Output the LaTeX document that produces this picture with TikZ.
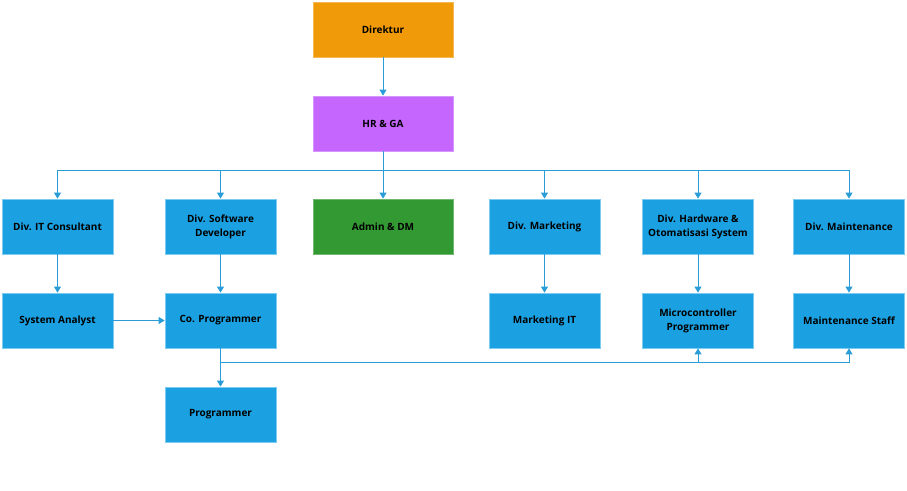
\documentclass[tikz,border=0pt]{standalone}
\usepackage{fontspec}
\setmainfont{Open Sans}
\usetikzlibrary{arrows.meta}
\definecolor{boxblue}{HTML}{1BA1E2}
\definecolor{edgeblue}{HTML}{7CCBF0}
\definecolor{boxorange}{HTML}{F09A09}
\definecolor{boxpurple}{HTML}{C566FF}
\definecolor{boxgreen}{HTML}{339933}
\definecolor{linkblue}{HTML}{2A9DD8}
\tikzset{
  unit/.style={draw=edgeblue, line width=0.8pt, fill=boxblue, minimum width=111pt, minimum height=55pt,
    inner sep=0pt, align=center, font=\fontsize{10}{14}\selectfont\bfseries, text=black},
  wide/.style={unit, minimum width=140pt},
  link/.style={draw=linkblue, line width=0.9pt, -{Triangle[width=7pt,length=6pt]}},
  plain/.style={draw=linkblue, line width=0.9pt}
}
\begin{document}
\begin{tikzpicture}[x=1pt, y=-1pt]
\useasboundingbox (0,0) rectangle (907,490);
% top of the chart
\node[wide, fill=boxorange, draw=boxorange!70!white] (dir) at (383,29.5) {Direktur};
\node[wide, fill=boxpurple, draw=boxpurple!70!white] (hr) at (383,123.5) {HR \& GA};
% divisions
\node[unit] (itc) at (57.5,226.5) {Div. IT Consultant};
\node[unit] (swd) at (220.5,226.5) {Div. Software\\Developer};
\node[wide, fill=boxgreen, draw=boxgreen!70!white] (adm) at (383,226.5) {Admin \& DM};
\node[unit] (mkt) at (544.5,226.5) {Div. Marketing};
\node[unit] (hw) at (698,226.5) {Div. Hardware \&\\Otomatisasi System};
\node[unit] (mnt) at (849,226.5) {Div. Maintenance};
% staff
\node[unit] (sa) at (57.5,320.5) {System Analyst};
\node[unit] (cop) at (220.5,320.5) {Co. Programmer};
\node[unit] (mit) at (544.5,320.5) {Marketing IT};
\node[unit] (mcp) at (698,320.5) {Microcontroller\\Programmer};
\node[unit] (mst) at (849,320.5) {Maintenance Staff};
\node[unit] (prg) at (220.5,414.5) {Programmer};
% bus points
\coordinate (bus) at (383,170);
\coordinate (low) at (220.5,362);
% connectors
\draw[link] (dir) -- (hr);
\draw[plain] (hr.south) -- (bus);
\foreach \t in {itc,swd,adm,mkt,hw,mnt}
  \draw[link] (bus) -| (\t.north);
\draw[link] (itc) -- (sa);
\draw[link] (swd) -- (cop);
\draw[link] (mkt) -- (mit);
\draw[link] (hw) -- (mcp);
\draw[link] (mnt) -- (mst);
\draw[link] (sa) -- (cop);
\draw[link] (cop) -- (prg);
\draw[link] (low) -| (mcp.south);
\draw[link] (low) -| (mst.south);
\end{tikzpicture}
\end{document}
